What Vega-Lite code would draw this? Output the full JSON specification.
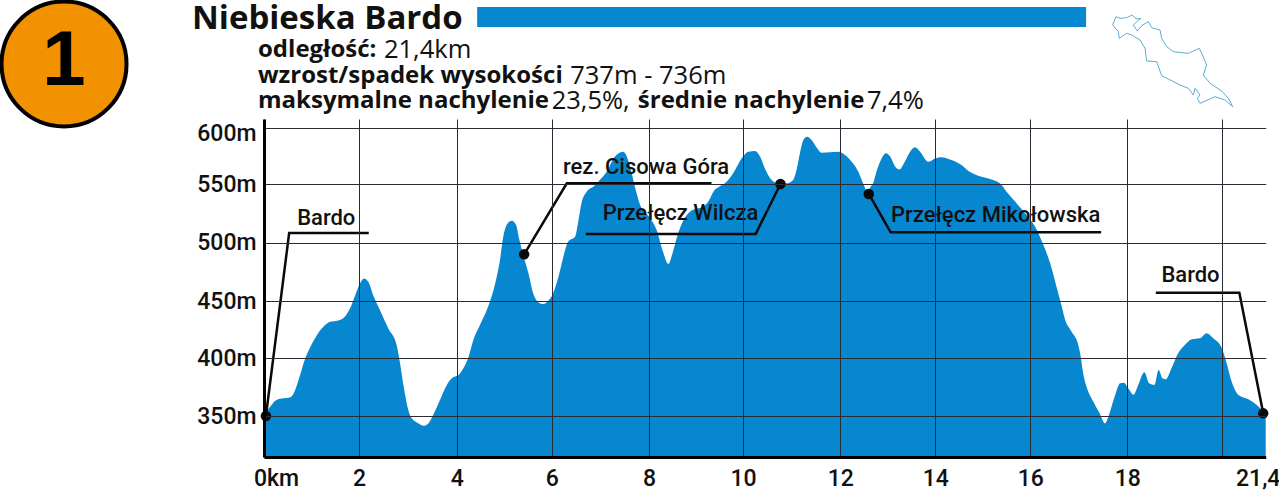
{"$schema":"https://vega.github.io/schema/vega-lite/v6.json","autosize":"none","padding":{"left":264,"top":119,"right":13,"bottom":38},"width":1002,"height":338,"background":"white","config":{"view":{"stroke":null},"text":{"font":"Roboto","fontSize":22,"color":"#111"}},"resolve":{"scale":{"x":"independent","y":"independent"}},"layer":[{"encoding":{"x":{"field":"km","type":"quantitative","scale":{"domain":[0,2,4,6,8,10,12,14,16,18,20,21.4],"range":[0,95,192.7,287.7,385,479,576.3,671.3,766.3,863.3,958.3,1001.7],"nice":false,"zero":false},"axis":{"title":null,"values":[0,2,4,6,8,10,12,14,16,18,20,21.4],"grid":true,"gridColor":"#2b2b35","gridWidth":1,"gridOpacity":{"condition":{"test":"datum.value == 21.4","value":0},"value":1},"zindex":1,"ticks":false,"domain":true,"domainColor":"#000","domainWidth":3,"labelFont":"Roboto","labelFontWeight":500,"labelFontSize":23,"labelColor":"#111","labelPadding":10,"labelOverlap":false,"labelFlush":false,"labelBound":false,"labelExpr":"datum.value == 0 ? '0km' : datum.value == 20 ? '' : datum.value == 21.4 ? '21,4' : datum.label","labelOffset":{"condition":[{"test":"datum.value == 0","value":12},{"test":"datum.value == 21.4","value":-8}],"value":0}}},"y":{"field":"elev","type":"quantitative","scale":{"domain":[315,350,400,450,500,550,600,608],"range":[338,297,239.3,182,123.7,65,9.3,0],"nice":false,"zero":false},"axis":{"title":null,"values":[350,400,450,500,550,600],"grid":true,"gridColor":"#2b2b35","gridWidth":1,"zindex":1,"ticks":false,"domain":true,"domainColor":"#000","domainWidth":3,"labelFont":"Roboto","labelFontWeight":500,"labelFontSize":23,"labelColor":"#111","labelPadding":8,"labelExpr":"datum.value + 'm'","labelOverlap":false,"labelBound":false,"labelOffset":{"condition":{"test":"datum.value == 600","value":5},"value":0}}}},"layer":[{"data":{"values":[{"km":0,"elev":351},{"km":0.13,"elev":358},{"km":0.23,"elev":363},{"km":0.34,"elev":365},{"km":0.48,"elev":365.6},{"km":0.58,"elev":367},{"km":0.67,"elev":374},{"km":0.76,"elev":385.5},{"km":0.86,"elev":399},{"km":0.97,"elev":409.5},{"km":1.11,"elev":420},{"km":1.25,"elev":427.5},{"km":1.39,"elev":431.8},{"km":1.56,"elev":433},{"km":1.71,"elev":436.7},{"km":1.81,"elev":443.4},{"km":1.92,"elev":455},{"km":2.02,"elev":465},{"km":2.1,"elev":469.4},{"km":2.19,"elev":466.5},{"km":2.29,"elev":455},{"km":2.43,"elev":442},{"km":2.6,"elev":426},{"km":2.77,"elev":411.6},{"km":2.84,"elev":395.7},{"km":2.92,"elev":374},{"km":3.01,"elev":355},{"km":3.08,"elev":348},{"km":3.22,"elev":343.6},{"km":3.32,"elev":341.6},{"km":3.42,"elev":343.6},{"km":3.52,"elev":351},{"km":3.66,"elev":364},{"km":3.8,"elev":377},{"km":3.9,"elev":382.7},{"km":4.04,"elev":385.5},{"km":4.14,"elev":391.3},{"km":4.25,"elev":401.4},{"km":4.35,"elev":416},{"km":4.49,"elev":429},{"km":4.67,"elev":446},{"km":4.81,"elev":465},{"km":4.91,"elev":485},{"km":4.98,"elev":505},{"km":5.05,"elev":515},{"km":5.16,"elev":518.8},{"km":5.25,"elev":515},{"km":5.32,"elev":502.3},{"km":5.4,"elev":489.4},{"km":5.51,"elev":473.7},{"km":5.61,"elev":456.6},{"km":5.72,"elev":448.8},{"km":5.82,"elev":447.4},{"km":5.93,"elev":450.3},{"km":6.03,"elev":456.6},{"km":6.14,"elev":471},{"km":6.24,"elev":488},{"km":6.34,"elev":501},{"km":6.48,"elev":505},{"km":6.55,"elev":519},{"km":6.62,"elev":535},{"km":6.72,"elev":543.5},{"km":6.86,"elev":547.8},{"km":6.99,"elev":553.6},{"km":7.13,"elev":561},{"km":7.3,"elev":574.6},{"km":7.47,"elev":579},{"km":7.53,"elev":576},{"km":7.61,"elev":565.6},{"km":7.71,"elev":547.7},{"km":7.82,"elev":532},{"km":8,"elev":522},{"km":8.16,"elev":511},{"km":8.3,"elev":492},{"km":8.41,"elev":481.7},{"km":8.52,"elev":493.7},{"km":8.62,"elev":508},{"km":8.73,"elev":519},{"km":8.87,"elev":526.4},{"km":9.01,"elev":529},{"km":9.16,"elev":530.7},{"km":9.26,"elev":535},{"km":9.37,"elev":543.5},{"km":9.51,"elev":548},{"km":9.65,"elev":552},{"km":9.79,"elev":559.6},{"km":9.97,"elev":573},{"km":10.11,"elev":579},{"km":10.25,"elev":579.6},{"km":10.35,"elev":574.6},{"km":10.45,"elev":564},{"km":10.59,"elev":553.6},{"km":10.69,"elev":551},{"km":10.9,"elev":550.6},{"km":11.03,"elev":553.6},{"km":11.1,"elev":562.6},{"km":11.17,"elev":577.6},{"km":11.24,"elev":589.5},{"km":11.32,"elev":592.5},{"km":11.41,"elev":589.5},{"km":11.51,"elev":583},{"km":11.62,"elev":578},{"km":11.79,"elev":578.4},{"km":11.96,"elev":579},{"km":12.1,"elev":576},{"km":12.24,"elev":570},{"km":12.38,"elev":561},{"km":12.48,"elev":550.6},{"km":12.57,"elev":543.5},{"km":12.64,"elev":547.7},{"km":12.69,"elev":550.6},{"km":12.76,"elev":561},{"km":12.87,"elev":573},{"km":12.96,"elev":577.5},{"km":13.05,"elev":574.6},{"km":13.15,"elev":566},{"km":13.25,"elev":563},{"km":13.34,"elev":568.6},{"km":13.47,"elev":579},{"km":13.57,"elev":583},{"km":13.68,"elev":579},{"km":13.85,"elev":570},{"km":14,"elev":573},{"km":14.13,"elev":574},{"km":14.31,"elev":572},{"km":14.55,"elev":567},{"km":14.69,"elev":562},{"km":14.94,"elev":557},{"km":15.22,"elev":553.6},{"km":15.36,"elev":550.6},{"km":15.5,"elev":543.5},{"km":15.68,"elev":535},{"km":15.92,"elev":523.5},{"km":16.1,"elev":513.6},{"km":16.27,"elev":498},{"km":16.41,"elev":482.3},{"km":16.54,"elev":462.3},{"km":16.65,"elev":445},{"km":16.71,"elev":434.8},{"km":16.85,"elev":423.3},{"km":16.99,"elev":411.6},{"km":17.04,"elev":401.4},{"km":17.09,"elev":387},{"km":17.17,"elev":374},{"km":17.3,"elev":362.4},{"km":17.43,"elev":352.3},{"km":17.54,"elev":343.6},{"km":17.61,"elev":349.4},{"km":17.74,"elev":366.8},{"km":17.85,"elev":378.3},{"km":17.93,"elev":378.9},{"km":18.02,"elev":374},{"km":18.13,"elev":368.5},{"km":18.23,"elev":376.9},{"km":18.36,"elev":387.9},{"km":18.46,"elev":378.3},{"km":18.57,"elev":376.9},{"km":18.66,"elev":389.9},{"km":18.74,"elev":382.7},{"km":18.81,"elev":381.8},{"km":18.93,"elev":391.3},{"km":19.07,"elev":404.4},{"km":19.21,"elev":411.6},{"km":19.35,"elev":416.5},{"km":19.53,"elev":417.4},{"km":19.67,"elev":421.8},{"km":19.81,"elev":417.4},{"km":19.99,"elev":408.7},{"km":20.14,"elev":395.7},{"km":20.3,"elev":379.8},{"km":20.52,"elev":368.2},{"km":20.84,"elev":364.5},{"km":21.11,"elev":359.5},{"km":21.32,"elev":353.8},{"km":21.4,"elev":351}]},"mark":{"type":"area","color":"#0887d1","interpolate":"monotone"},"encoding":{"y2":{"datum":315}}},{"data":{"values":[{"name":"a","i":0,"km":0.04,"elev":350},{"name":"a","i":1,"km":0.53,"elev":508.3},{"name":"a","i":2,"km":2.2,"elev":508.3},{"name":"b","i":0,"km":5.42,"elev":490},{"name":"b","i":1,"km":6.31,"elev":550.6},{"name":"b","i":2,"km":9.33,"elev":550.6},{"name":"c","i":0,"km":10.77,"elev":550},{"name":"c","i":1,"km":10.26,"elev":507.4},{"name":"c","i":2,"km":6.7,"elev":507.4},{"name":"d","i":0,"km":12.6,"elev":541.5},{"name":"d","i":1,"km":13.06,"elev":508.9},{"name":"d","i":2,"km":17.46,"elev":508.9},{"name":"e","i":0,"km":21.32,"elev":352.3},{"name":"e","i":1,"km":20.55,"elev":457.1},{"name":"e","i":2,"km":18.6,"elev":457.1}]},"mark":{"type":"line","color":"#0a0a0a","strokeWidth":2.5,"interpolate":"linear"},"encoding":{"detail":{"field":"name"},"order":{"field":"i"}}},{"data":{"values":[{"km":0.04,"elev":350},{"km":5.42,"elev":490},{"km":10.77,"elev":550},{"km":12.6,"elev":541.5},{"km":21.32,"elev":352.3}]},"mark":{"type":"point","filled":true,"color":"#0a0a0a","size":110,"shape":"circle","opacity":1}},{"data":{"values":[{"km":1.31,"elev":521,"label":"Bardo"},{"km":7.94,"elev":565.3,"label":"rez. Cisowa Góra"},{"km":8.67,"elev":525.3,"label":"Przełęcz Wilcza"},{"km":15.27,"elev":523.6,"label":"Przełęcz Mikołowska"},{"km":19.33,"elev":472.3,"label":"Bardo"}]},"mark":{"type":"text","align":"center","baseline":"middle","font":"Roboto","fontWeight":500,"fontSize":22,"color":"#111"},"encoding":{"text":{"field":"label"}}},{"data":{"values":[{"km":4.43,"km2":17.15,"elev":704.3,"elev2":687.1}]},"mark":{"type":"rect","color":"#0887d1"},"encoding":{"x2":{"field":"km2"},"y2":{"field":"elev2"}}},{"data":{"values":[{"km":-4.21,"elev":655.3}]},"mark":{"type":"point","filled":false,"fill":"#f39200","stroke":"#000","strokeWidth":4,"size":15625,"shape":"circle","opacity":1}},{"data":{"values":[{"km":-4.21,"elev":657,"label":"1"}]},"mark":{"type":"text","font":"Liberation Sans","fontWeight":"bold","fontSize":78,"align":"center","baseline":"middle","color":"#000"},"encoding":{"text":{"field":"label"}}},{"data":{"values":[{"km":-1.516,"elev":694,"label":"Niebieska Bardo"}]},"mark":{"type":"text","font":"Open Sans","fontWeight":"bold","fontSize":33,"align":"left","baseline":"middle","color":"#111"},"encoding":{"text":{"field":"label"}}},{"data":{"values":[{"km":-0.126,"elev":667.3,"label":"odległość:"},{"km":-0.126,"elev":645,"label":"wzrost/spadek wysokości"},{"km":-0.126,"elev":623.5,"label":"maksymalne nachylenie"},{"km":7.77,"elev":623.5,"label":"średnie nachylenie"}]},"mark":{"type":"text","font":"Open Sans","fontWeight":"bold","fontSize":24,"align":"left","baseline":"middle","color":"#111"},"encoding":{"text":{"field":"label"}}},{"data":{"values":[{"km":2.51,"elev":667.3,"label":"21,4km"},{"km":6.38,"elev":645,"label":"737m - 736m"},{"km":6,"elev":623.5,"label":"23,5%,"},{"km":12.56,"elev":623.5,"label":"7,4%"}]},"mark":{"type":"text","font":"Open Sans","fontSize":25.5,"align":"left","baseline":"middle","color":"#111"},"encoding":{"text":{"field":"label"}}}]},{"data":{"values":[{"i":0,"lon":38,"lat":60},{"i":1,"lon":48,"lat":35},{"i":2,"lon":60,"lat":40},{"i":3,"lon":80,"lat":38},{"i":4,"lon":97,"lat":30},{"i":5,"lon":108,"lat":42},{"i":6,"lon":122,"lat":40},{"i":7,"lon":100,"lat":60},{"i":8,"lon":112,"lat":78},{"i":9,"lon":125,"lat":62},{"i":10,"lon":145,"lat":50},{"i":11,"lon":155,"lat":68},{"i":12,"lon":180,"lat":75},{"i":13,"lon":185,"lat":100},{"i":14,"lon":200,"lat":125},{"i":15,"lon":220,"lat":140},{"i":16,"lon":265,"lat":145},{"i":17,"lon":298,"lat":130},{"i":18,"lon":305,"lat":145},{"i":19,"lon":320,"lat":180},{"i":20,"lon":310,"lat":210},{"i":21,"lon":330,"lat":235},{"i":22,"lon":365,"lat":258},{"i":23,"lon":385,"lat":280},{"i":24,"lon":398,"lat":305},{"i":25,"lon":375,"lat":285},{"i":26,"lon":345,"lat":275},{"i":27,"lon":300,"lat":295},{"i":28,"lon":292,"lat":280},{"i":29,"lon":300,"lat":270},{"i":30,"lon":285,"lat":250},{"i":31,"lon":280,"lat":270},{"i":32,"lon":265,"lat":250},{"i":33,"lon":240,"lat":240},{"i":34,"lon":205,"lat":222},{"i":35,"lon":185,"lat":212},{"i":36,"lon":170,"lat":170},{"i":37,"lon":140,"lat":168},{"i":38,"lon":135,"lat":130},{"i":39,"lon":120,"lat":105},{"i":40,"lon":95,"lat":90},{"i":41,"lon":80,"lat":85},{"i":42,"lon":58,"lat":100},{"i":43,"lon":55,"lat":80},{"i":44,"lon":38,"lat":60}]},"mark":{"type":"line","color":"#4aa5cc","strokeWidth":0.9,"clip":false},"encoding":{"x":{"field":"lon","type":"quantitative","scale":{"domain":[0,450],"range":[836,986],"nice":false,"zero":false},"axis":null},"y":{"field":"lat","type":"quantitative","scale":{"domain":[0,330],"range":[-114,-4],"nice":false,"zero":false},"axis":null},"order":{"field":"i"}}}]}
